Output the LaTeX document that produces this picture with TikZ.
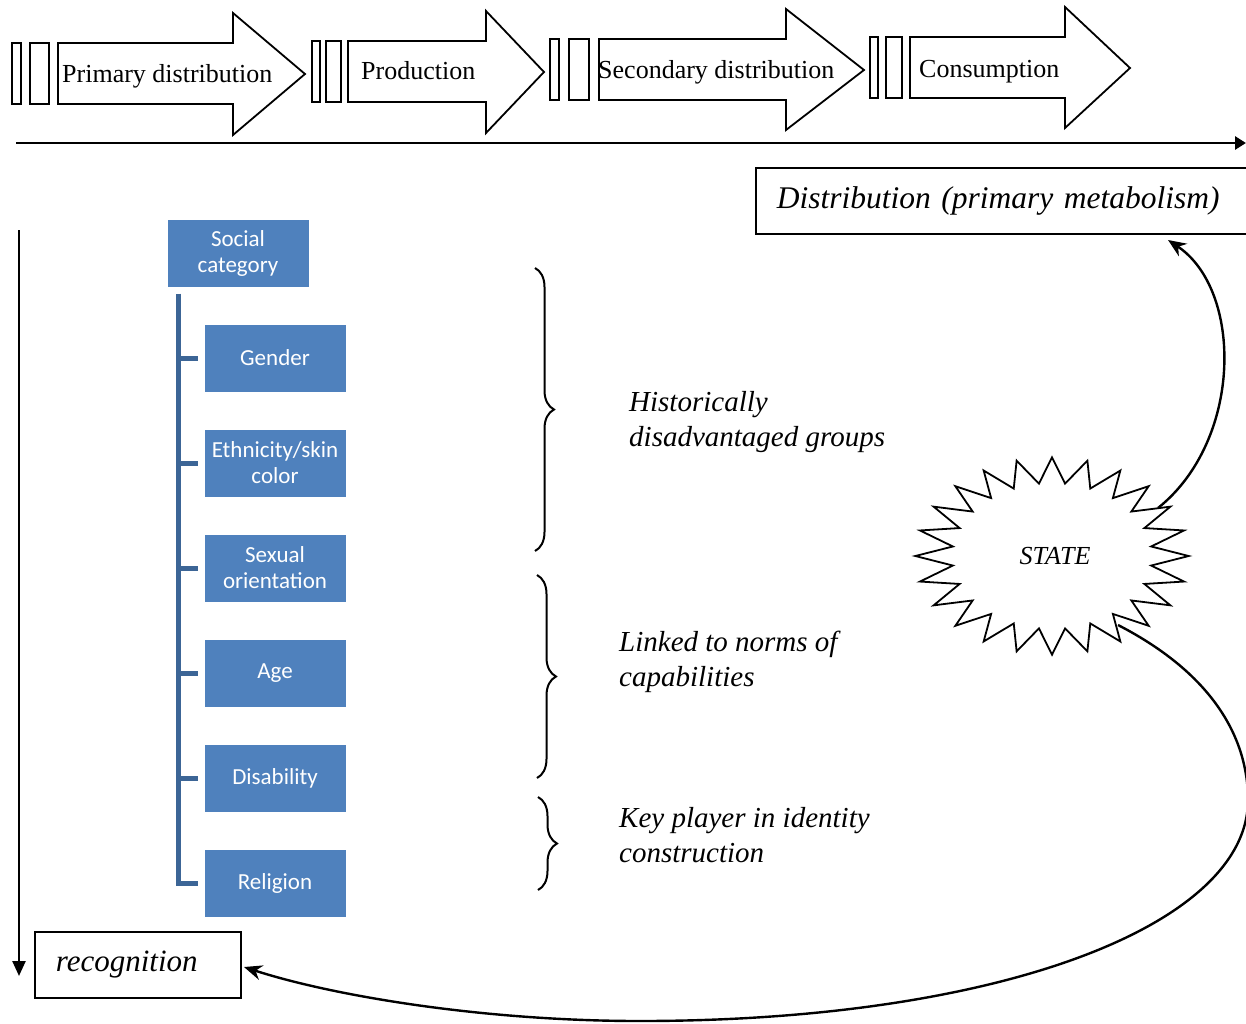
\documentclass[tikz,border=0pt]{standalone}
\usepackage{fontspec}
\setmainfont{Liberation Serif}
\newfontfamily\carl{Carlito}
\usetikzlibrary{arrows.meta,decorations.pathreplacing}
\definecolor{boxblue}{HTML}{4F81BD}
\definecolor{lineblue}{HTML}{3C6596}
\newcommand{\flowarr}[8]{%
  \draw[flowarrow] (#1,#2) -- (#4,#2) -- (#4,#5) -- (#7,#8) -- (#4,#6) -- (#4,#3) -- (#1,#3) -- cycle;}
\begin{document}
\begin{tikzpicture}[x=1pt,y=-1pt,
  flowarrow/.style={draw,line width=1.8pt,line join=miter},
  barbox/.style={draw,line width=1.8pt},
  flowtext/.style={anchor=base west,inner sep=0pt,font=\fontsize{26}{30}\selectfont},
  cat/.style={draw=white,line width=1pt,fill=boxblue,minimum width=142pt,minimum height=68pt,inner sep=0pt,text=white,align=center,font=\carl\fontsize{23}{26}\selectfont},
  treeline/.style={draw=lineblue,line width=5pt},
  bracestyle/.style={draw,line width=2pt,decorate,decoration={brace,amplitude=19pt}},
  note/.style={anchor=base west,inner sep=0pt,align=left,font=\itshape\fontsize{29}{35}\selectfont},
  curvearrow/.style={draw,line width=2.4pt,-{Stealth[length=18pt,width=15pt]}},
]
\useasboundingbox (0,0) rectangle (1246,1023);

% ---- top flow arrows ----
\draw[barbox] (12,43) rectangle (21,104);
\draw[barbox] (30,43) rectangle (49,104);
\flowarr{58}{43}{104}{233}{13}{135}{305}{74}
\node[flowtext] (t1) at (62,82) {Primary distribution};

\draw[barbox] (312,41) rectangle (320,102);
\draw[barbox] (326,41) rectangle (341,102);
\flowarr{348}{41}{102}{486}{11}{133}{544}{72}
\node[flowtext] (t2) at (361,79) {Production};

\draw[barbox] (550,39) rectangle (559,100);
\draw[barbox] (569,39) rectangle (589,100);
\flowarr{599}{39}{100}{786}{9}{130}{864}{70}
\node[flowtext] (t3) at (598,78) {Secondary distribution};

\draw[barbox] (870,37) rectangle (878,98);
\draw[barbox] (886,37) rectangle (902,98);
\flowarr{910}{37}{98}{1065}{7}{128}{1130}{68}
\node[flowtext] (t4) at (919,77) {Consumption};

% ---- axis ----
\coordinate (axisL) at (16,143);
\coordinate (axisR) at (1246,143);
\draw[line width=2.8pt,-{Triangle[length=11pt,width=13pt]}] (axisL) -- (axisR);

\coordinate (vTop) at (19,230);
\coordinate (vBot) at (19,976);
\draw[line width=2.4pt,-{Triangle[length=15pt,width=13pt]}] (vTop) -- (vBot);

% ---- boxes ----
\node[draw,line width=1.8pt,anchor=north west,minimum height=66pt,inner xsep=21pt,text width=470pt,align=left,
  font=\itshape\fontsize{31.5}{36}\selectfont] (dist) at (755,167) {Distribution (primary metabolism)};
\node[draw,line width=1.8pt,anchor=north west,minimum height=66pt,inner xsep=21pt,text width=164pt,align=left,
  font=\itshape\fontsize{31}{36}\selectfont] (recog) at (34,931) {recognition};

% ---- social categories ----
\node[cat] (social) at (238,253) {Social\\category};
\node[cat] (gender) at (275,358) {Gender};
\node[cat] (ethnic) at (275,463) {Ethnicity/skin\\color};
\node[cat] (sexual) at (275,568) {Sexual\\orientation};
\node[cat] (age) at (275,673) {Age};
\node[cat] (disab) at (275,778) {Disability};
\node[cat] (relig) at (275,883) {Religion};

\coordinate (spinetop) at ([xshift=12pt,yshift=-6pt]social.south west);
\draw[treeline] (spinetop) |- ([xshift=-6pt]relig.west);
\foreach \n in {gender,ethnic,sexual,age,disab}
  \draw[treeline] (spinetop |- \n.west) -- ([xshift=-6pt]\n.west);

% ---- braces ----
\draw[bracestyle] (535,268) -- (535,551);
\draw[bracestyle] (537,575) -- (537,778);
\draw[bracestyle] (538,797) -- (538,890);

\node[note] (hist) at (629,446) {Historically\\disadvantaged groups};
\node[note] (linked) at (619,686) {Linked to norms of\\capabilities};
\node[note] (key) at (619,862) {Key player in identity\\construction};

% ---- state ----
\draw[line width=1.8pt,line join=miter] (1052+136.7,556)
  \foreach \k in {0,...,23} {
    -- ({1052+100*cos(\k*15+7.5)},{556-73*sin(\k*15+7.5)})
    -- ({1052+136.7*cos(\k*15+15)},{556-98.7*sin(\k*15+15)})
  } -- cycle;
\node[inner sep=0pt,font=\itshape\fontsize{26}{30}\selectfont] (state) at (1055,556) {STATE};
\coordinate (stateNE) at (1158,508);
\coordinate (stateSE) at (1118,625);
\coordinate (distIn) at (1168,240);
\coordinate (recogIn) at (244,967);

\draw[curvearrow] (stateNE) .. controls (1243,440) and (1243,290) .. (distIn);
\draw[curvearrow] (stateSE) .. controls (1215,675) and (1248,740) .. (1248,800)
  .. controls (1248,925) and (1000,1021) .. (640,1021)
  .. controls (480,1021) and (330,995) .. (recogIn);
\end{tikzpicture}
\end{document}
